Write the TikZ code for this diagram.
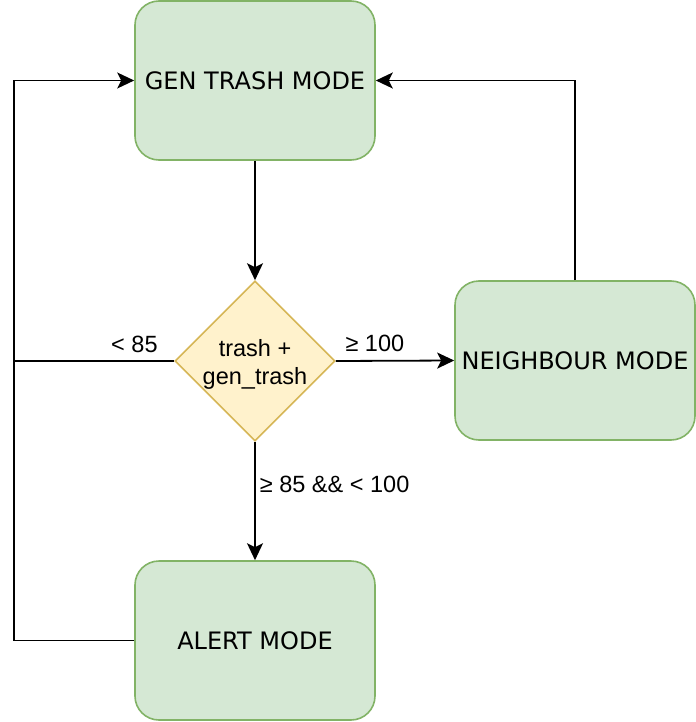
\documentclass[tikz,border=0pt]{standalone}
\usepackage{fontspec}
\setmainfont{Liberation Sans}
\newfontfamily\boxfont{DejaVu Sans}
\usetikzlibrary{shapes.geometric,arrows.meta}
\definecolor{gfill}{HTML}{D5E8D4}
\definecolor{gline}{HTML}{82B366}
\definecolor{yfill}{HTML}{FFF2CC}
\definecolor{yline}{HTML}{D6B656}
\tikzset{
  modebox/.style={draw=gline, fill=gfill, line width=1.6bp, rounded corners=24bp,
    minimum width=240bp, minimum height=159bp, inner sep=0pt,
    font=\boxfont\fontsize{24bp}{29bp}\selectfont},
  decision/.style={draw=yline, fill=yfill, line width=1.6bp, diamond, aspect=1,
    minimum width=160bp, minimum height=160bp, inner sep=0pt},
  dtext/.style={align=center, inner sep=0pt, font=\fontsize{23.5bp}{28bp}\selectfont},
  lbl/.style={inner sep=0pt, font=\fontsize{23.5bp}{28bp}\selectfont},
  conn/.style={line width=1.8bp, draw=black},
  arr/.style={conn, -{Stealth[length=17bp, width=16bp, inset=4bp]}}
}
\begin{document}
\begin{tikzpicture}[x=1bp, y=-1bp]
\useasboundingbox (0,0) rectangle (696,722);
\node[modebox] (g) at (255,80.5) {GEN TRASH MODE};
\node[decision] (d) at (255,361) {};
\node[dtext] (dt) at (255,364) {trash +\\gen\_trash};
\node[modebox] (n) at (575,360.5) {NEIGHBOUR MODE};
\node[modebox] (a) at (255,640.5) {ALERT MODE};
\coordinate (j) at (15,361);

\draw[arr] (g.south) -- (d.north);
\draw[arr] (d.east) -- node[lbl, pos=0.33, anchor=base, yshift=9bp] {≥ 100} (n.west);
\draw[arr] (d.south) -- node[lbl, pos=0.425, anchor=base west, xshift=4bp] {≥ 85 \&\& < 100} (a.north);
\draw[conn] (d.west) -- node[lbl, pos=0.25, anchor=base, yshift=9bp] {< 85} (j);
\draw[arr] (a.west) -- ++(-120,0) |- (g.west);
\draw[arr] (n.north) |- (g.east);
\end{tikzpicture}
\end{document}
